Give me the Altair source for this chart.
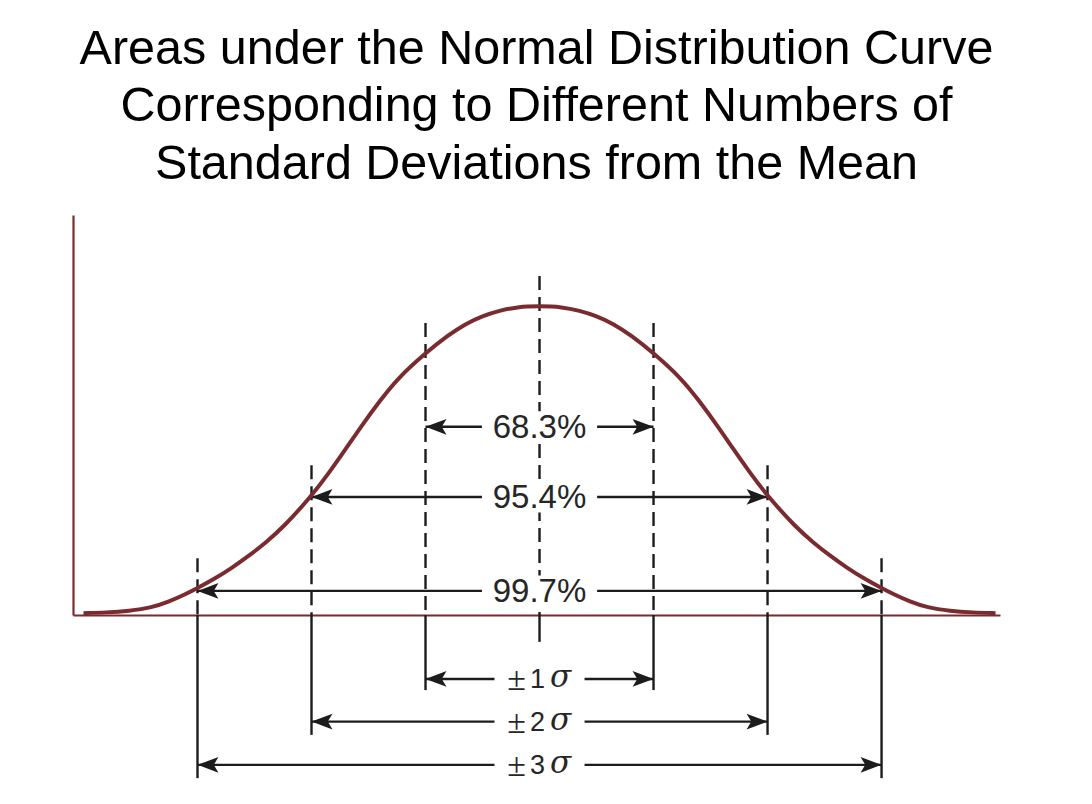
import altair as alt
import pandas as pd

# ---------------- data ----------------
# curve, in units of standard deviations (z) and height relative to the peak (h)
curve_z = [-4.0, -3.8, -3.6, -3.4, -3.25, -3.1, -3.0, -2.85, -2.7, -2.55, -2.4, -2.25, -2.0,
           -1.85, -1.7, -1.55, -1.4, -1.25, -1.0, -0.8, -0.65, -0.5, -0.35, -0.2, 0.0,
           0.2, 0.35, 0.5, 0.65, 0.8, 1.0, 1.25, 1.4, 1.55, 1.7, 1.85, 2.0,
           2.25, 2.4, 2.55, 2.7, 2.85, 3.0, 3.1, 3.25, 3.4, 3.6, 3.8, 4.0]
curve_h = [0.006, 0.008, 0.013, 0.024, 0.043, 0.068, 0.087, 0.117, 0.152, 0.191, 0.235, 0.283, 0.385,
           0.458, 0.537, 0.618, 0.693, 0.764, 0.848, 0.906, 0.942, 0.968, 0.985, 0.997, 1.000,
           0.997, 0.985, 0.968, 0.942, 0.906, 0.848, 0.764, 0.693, 0.618, 0.537, 0.458, 0.385,
           0.283, 0.235, 0.191, 0.152, 0.117, 0.087, 0.068, 0.043, 0.024, 0.013, 0.008, 0.006]

# vertical reference lines at k standard deviations
line_z = [-3, -2, -1, 0, 1, 2, 3]
line_top = [0.184, 0.485, 0.945, 1.097, 0.945, 0.485, 0.184]        # dashed part, above the axis
line_bottom = [-0.528, -0.388, -0.243, -0.087, -0.243, -0.388, -0.528]  # solid part, below the axis

# area arrows
pct_labels = ["68.3%", "95.4%", "99.7%"]
pct_level = [0.609, 0.382, 0.078]
pct_k = [1, 2, 3]

# sigma arrows
sig_digits = ["1", "2", "3"]
sig_level = [-0.207, -0.345, -0.485]
sig_k = [1, 2, 3]

title_lines = ["Areas under the Normal Distribution  Curve",
               "Corresponding to Different Numbers of",
               "Standard Deviations  from the Mean"]

# ---------------- tables ----------------
curve = pd.DataFrame({"z": curve_z, "h": curve_h})
vlines = pd.DataFrame({"z": line_z, "top": line_top, "bottom": line_bottom, "zero": 0.0})
arrows = pd.DataFrame({
    "label": pct_labels + ["±" + d for d in sig_digits],
    "h": pct_level + sig_level,
    "lo": [-k for k in pct_k] + [-k for k in sig_k],
    "hi": pct_k + sig_k,
    "kind": ["pct"] * 3 + ["sig"] * 3,
})
arrows["gap"] = arrows["kind"].map({"pct": 0.505, "sig": 0.395})
arrows["glo"] = -arrows["gap"]
arrows["ghi"] = arrows["gap"]
arrows["boxhalf"] = 0.05
arrows["blo"] = arrows["h"] - arrows["boxhalf"]
arrows["bhi"] = arrows["h"] + arrows["boxhalf"]
arrows["mid"] = 0.0
pct = arrows[arrows["kind"] == "pct"]
sig = arrows[arrows["kind"] == "sig"].copy()
sig["digit"] = sig_digits
sig["pm"] = "±"
sig["sigma"] = "σ"

# ---------------- style ----------------
MAROON = "#7a2b2f"
INK = "#1c1c1c"
TXT = "#262626"
XDOM = [-4.092, 4.039]
YDOM = [0.0, 1.2945]

xs = alt.Scale(domain=XDOM, nice=False, zero=False)
ys = alt.Scale(domain=YDOM, nice=False, zero=False)
ax_x = alt.Axis(domain=True, domainColor=MAROON, domainWidth=2.2, ticks=False, labels=False,
                grid=False, title=None)
ax_y = alt.Axis(domain=True, domainColor=MAROON, domainWidth=2.2, ticks=False, labels=False,
                grid=False, title=None)

X = lambda f: alt.X(f, type="quantitative", scale=xs, axis=ax_x)
Y = lambda f: alt.Y(f, type="quantitative", scale=ys, axis=ax_y)

dashed = alt.Chart(vlines).mark_rule(color=INK, strokeWidth=2.4, strokeDash=[14, 7]).encode(
    x=X("z"), y=Y("top"), y2="zero:Q")
solid = alt.Chart(vlines).mark_rule(color=INK, strokeWidth=2.4).encode(
    x=X("z"), y=Y("zero"), y2="bottom:Q")

arrow_lines = alt.Chart(arrows).mark_rule(color=INK, strokeWidth=2.4).encode(
    x=X("lo"), x2="hi:Q", y=Y("h"))

boxes = alt.Chart(arrows).mark_rect(color="white").encode(
    x=X("glo"), x2="ghi:Q", y=Y("blo"), y2="bhi:Q")

RIGHT = "M0,0L-2,-0.75L-1.55,0L-2,0.75Z"
LEFT = "M0,0L2,-0.75L1.55,0L2,0.75Z"
heads_r = alt.Chart(arrows).mark_point(shape=RIGHT, size=440, filled=True, fill=INK,
                                       strokeWidth=0, opacity=1).encode(x=X("hi"), y=Y("h"))
heads_l = alt.Chart(arrows).mark_point(shape=LEFT, size=440, filled=True, fill=INK,
                                       strokeWidth=0, opacity=1).encode(x=X("lo"), y=Y("h"))

curve_line = alt.Chart(curve).mark_line(color=MAROON, strokeWidth=4, interpolate="basis",
                                        strokeCap="butt").encode(x=X("z"), y=Y("h"))

pct_text = alt.Chart(pct).mark_text(font="Liberation Sans", fontSize=33, color=TXT,
                                    align="center", baseline="middle", dy=1).encode(
    x=X("mid"), y=Y("h"), text="label:N")

pm_text = alt.Chart(sig).mark_text(font="Liberation Serif", fontSize=34, color=TXT,
                                   align="center", baseline="middle", dx=-23, dy=1).encode(
    x=X("mid"), y=Y("h"), text="pm:N")
dig_text = alt.Chart(sig).mark_text(font="Liberation Sans", fontSize=27, color=TXT,
                                    align="center", baseline="middle", dx=-2, dy=1).encode(
    x=X("mid"), y=Y("h"), text="digit:N")
sg_text = alt.Chart(sig).mark_text(font="DejaVu Serif", fontSize=31, fontStyle="italic",
                                   color=TXT, align="center", baseline="middle",
                                   dx=21, dy=-1).encode(
    x=X("mid"), y=Y("h"), text="sigma:N")

chart = alt.layer(
    dashed, solid, arrow_lines, boxes, heads_r, heads_l, curve_line,
    pct_text, pm_text, dig_text, sg_text
).properties(
    width=927, height=400,
    autosize="none",
    padding={"left": 65, "top": 207, "right": 60, "bottom": 170},
    title=alt.TitleParams(text=title_lines, font="Liberation Sans", fontSize=48.5,
                          fontWeight="normal", color="black", lineHeight=57.5,
                          anchor="middle", offset=26),
    background="white",
).configure_view(stroke=None)

chart.save("out.html", embed_options={"renderer": "svg", "actions": False})
